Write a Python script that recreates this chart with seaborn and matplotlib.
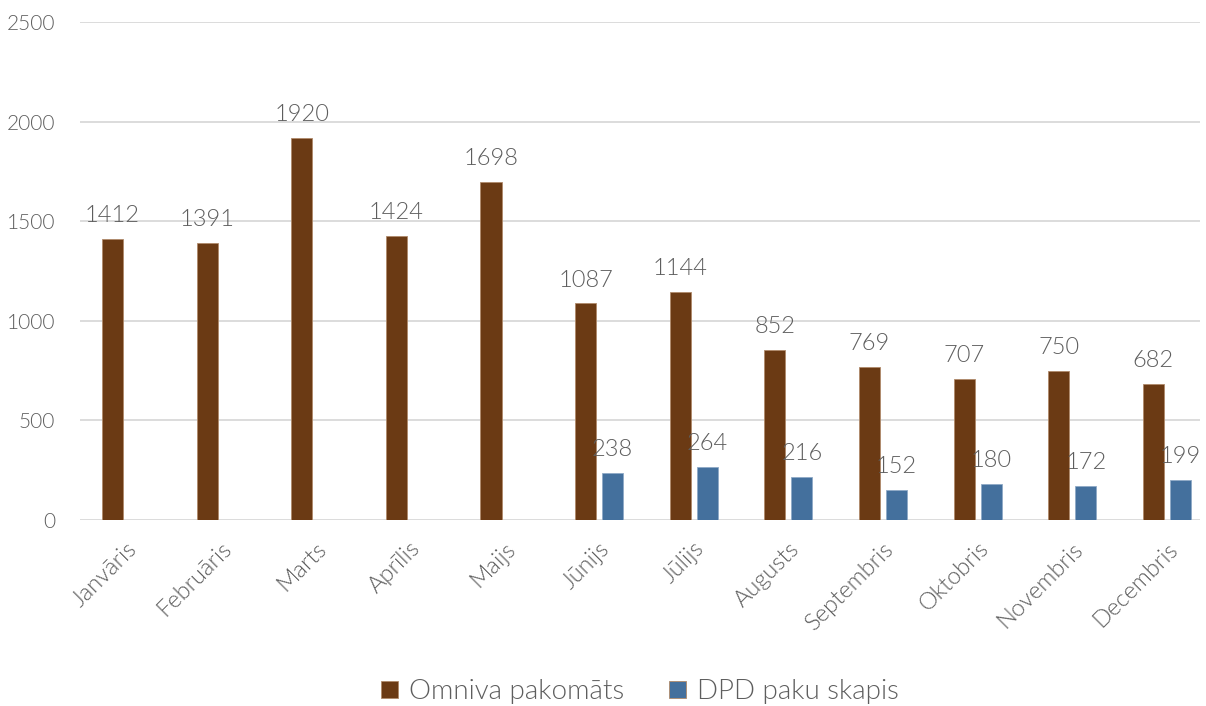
import matplotlib
matplotlib.use("Agg")
import matplotlib.pyplot as plt
import seaborn as sns
import pandas as pd
import numpy as np

months = ["Janvāris", "Februāris", "Marts", "Aprīlis", "Maijs", "Jūnijs", "Jūlijs",
          "Augusts", "Septembris", "Oktobris", "Novembris", "Decembris"]
omniva = [1412, 1391, 1920, 1424, 1698, 1087, 1144, 852, 769, 707, 750, 682]
dpd = [np.nan, np.nan, np.nan, np.nan, np.nan, 238, 264, 216, 152, 180, 172, 199]
series_names = ["Omniva pakomāts", "DPD paku skapis"]
colors = ["#6B3A14", "#44709D"]
yticks = [0, 500, 1000, 1500, 2000, 2500]

df = pd.DataFrame({
    "month": months * 2,
    "value": omniva + dpd,
    "series": [series_names[0]] * len(months) + [series_names[1]] * len(months),
})

sns.set_theme(style="white")
plt.rcParams['font.family'] = ['Lato', 'DejaVu Sans']
W = 300

fig = plt.figure(figsize=(12.06, 7.06), dpi=100)
ax = fig.add_axes([80 / 1206, 1 - 520 / 706, 1120 / 1206, 498 / 706])

sns.barplot(data=df, x="month", y="value", hue="series", order=months,
            hue_order=series_names, palette=colors, width=0.571, gap=0.22,
            ax=ax, legend=True, saturation=1, edgecolor="#B08A6A", linewidth=0.6)
for bar in ax.containers[1]:
    bar.set_edgecolor("#8FA9C6")

txt_color = "#5E5E5E"
for cont in ax.containers:
    for bar in cont:
        h = bar.get_height()
        if np.isnan(h) or h == 0:
            continue
        ax.text(bar.get_x() + bar.get_width() / 2, h + 65, f"{int(h)}",
                ha="center", va="bottom", fontsize=17, color=txt_color,
                fontweight=W)

ax.set_ylim(0, 2500)
ax.set_xlim(-0.486, 11.35)
ax.set_yticks(yticks)
ax.set_yticklabels([str(t) for t in yticks], fontsize=15, color=txt_color, fontweight=W)
ax.yaxis.grid(True, color="#D9D9D9", linewidth=1.3)
ax.set_axisbelow(True)
for s in ax.spines.values():
    s.set_visible(False)
ax.tick_params(axis="both", length=0)
ax.tick_params(axis="y", pad=18)
ax.tick_params(axis="x", pad=13)
ax.set_xticks(range(len(months)))
ax.set_xticklabels(months, rotation=45, ha="right", rotation_mode="anchor",
                   fontsize=17, color=txt_color, fontweight=W)
ax.set_xlabel("")
ax.set_ylabel("")

leg = ax.legend(loc="center", bbox_to_anchor=(0.5, -0.345), ncol=2, frameon=False,
                fontsize=20, handlelength=0.6, handleheight=0.6, columnspacing=1.6,
                handletextpad=0.4)
for t in leg.get_texts():
    t.set_color(txt_color)
    t.set_fontweight(W)

fig.savefig("out.png", dpi=100)
